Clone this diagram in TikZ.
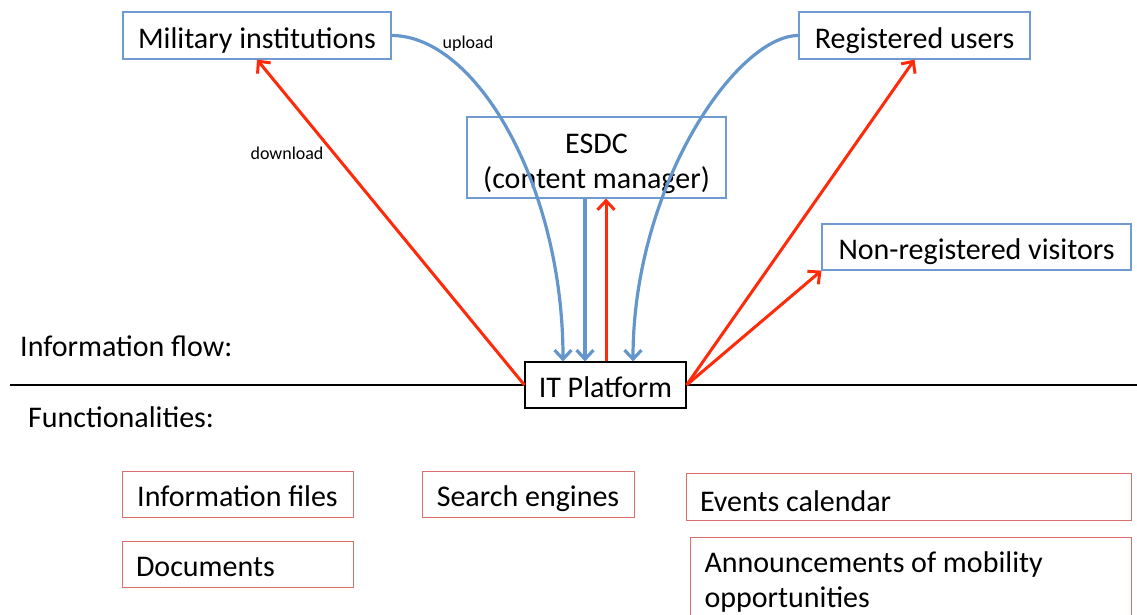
\documentclass[tikz,border=0pt]{standalone}
\usepackage{fontspec}
\setmainfont{Carlito}
\usetikzlibrary{arrows.meta,positioning}
\definecolor{boxblue}{HTML}{6F9BD0}
\definecolor{flowblue}{HTML}{6496CC}
\definecolor{flowred}{HTML}{FF2A0A}
\definecolor{featred}{HTML}{DA6F6C}

\begin{document}
\begin{tikzpicture}[x=1pt,y=-1pt,
    every node/.style={font=\fontsize{30}{35}\selectfont, inner sep=0pt},
    oneline/.style={text height=25, text depth=0},
    actor/.style={draw=boxblue, line width=1.2pt},
    feature/.style={draw=featred, line width=1pt, minimum height=46},
    tag/.style={font=\fontsize{18}{21}\selectfont},
    blueflow/.style={draw=flowblue, line width=3.2pt, -{Straight Barb[length=9pt,width=17pt]}},
    redflow/.style={draw=flowred, line width=3pt, -{Straight Barb[length=9pt,width=17pt]}}]
  \useasboundingbox (0,0) rectangle (1137,614);

  % information flow
  \node[actor, oneline, minimum width=268, minimum height=47] (mil) at (257,35.5) {Military institutions};
  \node[actor, oneline, minimum width=231, minimum height=47] (reg) at (914.5,35.5) {Registered users};
  \node[actor, minimum width=259, minimum height=81, align=center, text height=61, text depth=0]
    (esdc) at (596.5,157.5) {ESDC\\(content manager)};
  \node[actor, oneline, minimum width=309, minimum height=46] (nonreg) at (976.5,247) {Non-registered visitors};

  \coordinate (lineL) at (10,385);
  \coordinate (lineR) at (1137,385);
  \node[draw=black, line width=1.2pt, oneline, minimum width=161, minimum height=46] (it) at (605.5,385) {IT Platform};
  \draw[line width=2.6pt] (lineL) -- (it.west) (it.east) -- (lineR);

  \node[anchor=west] (flow) at (20,346) {Information flow:};
  \node[anchor=west] (func) at (28,417) {Functionalities:};

  % functionalities
  \node[feature, oneline, minimum width=231] (files) at (237.5,494) {Information files};
  \node[feature, oneline, minimum width=212] (search) at (528,494) {Search engines};
  \node[feature, text height=29, text depth=0, minimum height=47, inner xsep=14]
    (events) at (908.5,496.5) {\makebox[417pt][l]{Events calendar}};
  \node[feature, oneline, inner xsep=14] (docs) at (237.5,564) {\makebox[203pt][l]{Documents}};
  \node[feature, minimum height=90, anchor=north west, inner xsep=14, inner ysep=10]
    (announce) at (690,537) {\makebox[413pt][l]{\begin{tabular}{@{}l@{}}Announcements of mobility\\opportunities\end{tabular}}};

  % connectors
  \draw[redflow] (it.west) -- (mil.south);
  \draw[redflow] (it.east) -- (reg.south);
  \draw[redflow] (it.east) -- (nonreg.south west);
  \draw[blueflow] (mil.east) .. controls +(85,0) and +(0,-175) .. ([xshift=-42.5]it.north);
  \draw[blueflow] (reg.west) .. controls +(-62,0) and +(0,-175) .. ([xshift=27.5]it.north);
  \draw[blueflow] ([xshift=-11.5]esdc.south) -- ([xshift=-11.5]esdc.south |- it.north);
  \draw[redflow] ([xshift=9.5]esdc.south |- it.north) -- ([xshift=9.5]esdc.south);

  \node[tag] (up) at (468,44) {upload};
  \node[tag] (down) at (287,153) {download};
\end{tikzpicture}
\end{document}
